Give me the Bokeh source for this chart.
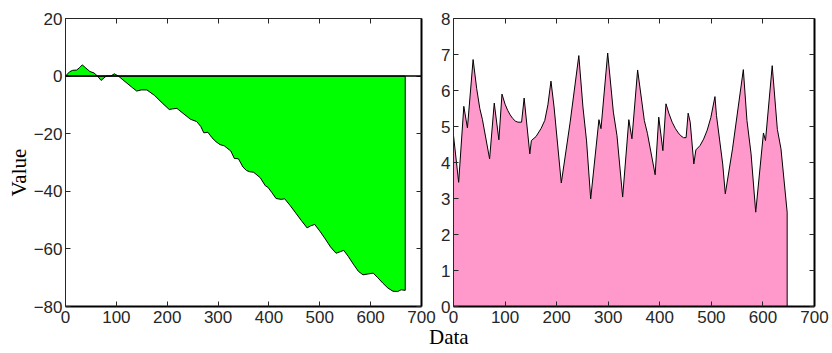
import math
from bokeh.plotting import figure
from bokeh.models import LinearAxis, Range1d, FixedTicker, Span, Div, Spacer
from bokeh.layouts import row, column
from bokeh.embed import file_html
from bokeh.resources import INLINE
from bokeh.core.properties import value

# ---- data ----
green_x = [0, 8, 14, 22, 28, 33, 40, 48, 56, 63, 70, 76, 80, 89, 96, 104, 117, 130, 140, 149,
           160, 175, 190, 204, 210, 219, 233, 246, 258, 266, 272, 280, 288, 296, 304, 312, 325,
           332, 340, 349, 356, 362, 370, 383, 393, 398, 406, 414, 424, 431, 442, 453, 464, 475,
           482, 490, 500, 511, 521, 532, 540, 547, 556, 566, 576, 585, 595, 605, 614, 624, 634,
           644, 653, 660, 668]
green_y = [0, 1.5, 2.0, 2.1, 3.0, 3.9, 2.8, 1.6, 1.1, 0.0, -1.5, -0.6, 0.0, 0.0, 0.8, 0.0, -1.9,
           -3.8, -5.2, -4.8, -4.8, -6.7, -9.3, -11.6, -11.4, -11.2, -13.2, -15.0, -15.8, -17.5,
           -19.7, -19.5, -21.4, -22.8, -23.8, -24.2, -26.0, -28.6, -28.7, -31.6, -32.8, -33.2,
           -33.4, -35.3, -38.1, -38.6, -40.5, -42.5, -42.8, -42.6, -45.0, -47.6, -50.2, -52.7,
           -52.0, -51.5, -53.8, -56.6, -59.3, -61.5, -61.0, -60.5, -62.6, -65.3, -67.8, -69.0,
           -68.7, -68.4, -70.0, -71.9, -73.6, -74.7, -74.8, -74.2, -74.4]

pink_x = [0, 10, 20, 27, 38, 45, 51, 56, 70, 79, 88, 94, 100, 105, 110, 115, 120, 125, 132, 137,
          148, 151, 160, 170, 177, 183, 189, 195, 209, 226, 243, 251, 258, 266, 282, 286, 299,
          310, 317, 328, 340, 346, 357, 370, 376, 391, 398, 406, 412, 418, 424, 430, 436, 441,
          446, 451, 455, 459, 466, 470, 478, 485, 492, 499, 507, 510, 522, 527, 541, 562, 569,
          577, 586, 601, 605, 618, 628, 635, 647]
pink_y = [4.75, 3.45, 5.56, 4.96, 6.86, 6.05, 5.5, 5.2, 4.1, 5.65, 4.63, 5.9, 5.62, 5.45, 5.32,
          5.22, 5.15, 5.12, 5.12, 5.79, 4.24, 4.61, 4.72, 4.95, 5.17, 5.6, 6.26, 5.54, 3.43, 5.1,
          6.97, 5.54, 4.6, 2.99, 5.19, 4.94, 7.04, 5.4, 4.75, 3.04, 5.19, 4.66, 6.57, 5.17, 4.81,
          3.66, 5.26, 4.33, 5.63, 5.35, 5.12, 4.95, 4.82, 4.74, 4.69, 4.69, 5.37, 5.12, 3.96,
          4.35, 4.47, 4.65, 4.9, 5.25, 5.83, 5.3, 3.96, 3.13, 4.38, 6.58, 5.17, 4.24, 2.62, 4.82,
          4.61, 6.69, 4.92, 4.38, 2.62]

x_ticks = [0, 100, 200, 300, 400, 500, 600, 700]
left_y_ticks = [-80, -60, -40, -20, 0, 20]
right_y_ticks = [0, 1, 2, 3, 4, 5, 6, 7, 8]
x_label = "Data"
y_label = "Value"

TICK_FONT = "Liberation Sans"
LABEL_FONT = "Liberation Serif"
AX_COLOR = "#262626"
ROW_H = 332


def style(p, xticks, yticks):
    p.grid.visible = False
    p.outline_line_color = None
    p.background_fill_color = "white"
    p.border_fill_color = "white"
    bottom = p.below[0]
    left = p.left[0]
    bottom.ticker = FixedTicker(ticks=xticks)
    left.ticker = FixedTicker(ticks=yticks)
    top = LinearAxis(ticker=FixedTicker(ticks=xticks), major_label_text_color=None,
                     major_label_standoff=0, major_label_text_font_size="10px")
    right = LinearAxis(ticker=FixedTicker(ticks=yticks), major_label_text_color=None,
                       major_label_standoff=0, major_label_text_font_size="10px")
    p.add_layout(top, "above")
    p.add_layout(right, "right")
    for ax in [bottom, left, top, right]:
        ax.major_tick_in = 5
        ax.major_tick_out = 0
        ax.minor_tick_line_color = None
        ax.axis_line_color = AX_COLOR
        ax.major_tick_line_color = AX_COLOR
        ax.major_label_text_font = TICK_FONT
    for ax in [bottom, left]:
        ax.major_label_text_font_size = "17px"
        ax.major_label_text_color = AX_COLOR
    bottom.major_label_standoff = 4
    left.major_label_standoff = 3
    bottom.axis_line_width = 2
    right.axis_line_width = 2
    bottom.axis_line_color = "black"
    right.axis_line_color = "black"


def area(p, xs, ys, color):
    px = [xs[0]] + list(xs) + [xs[-1]]
    py = [0] + list(ys) + [0]
    p.patch(px, py, fill_color=color, line_color="black", line_width=1)


# y-axis title strip
pl = figure(width=30, height=ROW_H, x_range=Range1d(0, 1), y_range=Range1d(0, 1),
            output_backend="svg", toolbar_location=None, x_axis_type=None, y_axis_type=None,
            min_border_left=0, min_border_right=0, min_border_top=0, min_border_bottom=0)
pl.grid.visible = False
pl.outline_line_color = None
pl.text(x=[0.6], y=[0.465], text=[y_label], angle=math.pi / 2,
        text_align="center", text_baseline="middle",
        text_font=value(LABEL_FONT), text_font_size="21px", text_color="black")

p1 = figure(width=407, height=ROW_H, x_range=Range1d(0, 700),
            y_range=Range1d(-80, 20), output_backend="svg", toolbar_location=None,
            min_border_left=30, min_border_right=16, min_border_top=18, min_border_bottom=26)
area(p1, green_x, green_y, "#00FF00")
p1.add_layout(Span(location=0, dimension="width", line_color="black", line_width=1.5))
style(p1, x_ticks, left_y_ticks)

p2 = figure(width=395, height=ROW_H, x_range=Range1d(0, 700),
            y_range=Range1d(0, 8), output_backend="svg", toolbar_location=None,
            min_border_left=16, min_border_right=18, min_border_top=18, min_border_bottom=26)
area(p2, pink_x, pink_y, "#FF99CC")
style(p2, x_ticks, right_y_ticks)

div = Div(text=x_label, width=50, height=21,
          styles={"font-family": LABEL_FONT, "font-size": "21px", "line-height": "16px",
                  "color": "black", "white-space": "nowrap", "overflow": "visible",
                  "margin-top": "-3px"})
layout = column(row(pl, p1, p2), row(Spacer(width=424, height=21), div))

open("out.html", "w").write(file_html(layout, INLINE))
